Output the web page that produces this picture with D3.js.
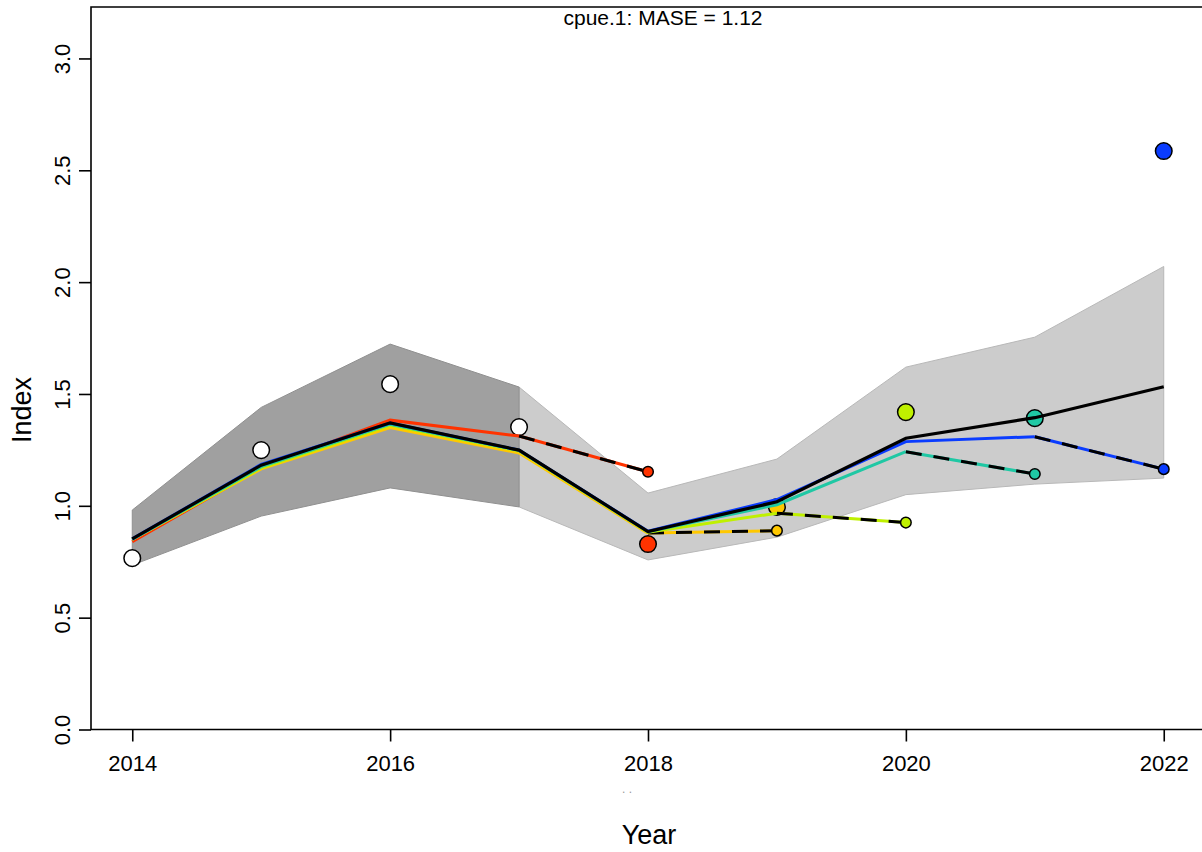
<!DOCTYPE html>
<html>
<head>
<meta charset="utf-8">
<script src="https://cdn.jsdelivr.net/npm/d3@7/dist/d3.min.js"></script>
<style>
  html, body { margin: 0; padding: 0; background: #fff; }
  svg { display: block; }
  text { font-family: "Liberation Sans", Arial, sans-serif; fill: #000; }
</style>
</head>
<body>
<svg id="chart" width="1202" height="852"></svg>
<script>
// ---------------- data ----------------
const years = [2014, 2015, 2016, 2017, 2018, 2019, 2020, 2021, 2022];
const xTicks = [2014, 2016, 2018, 2020, 2022];
const yTicks = [0, 0.5, 1.0, 1.5, 2.0, 2.5, 3.0];

// observed index
const obs = [0.766, 1.249, 1.544, 1.352, 0.829, 0.995, 1.419, 1.392, 2.586];
const obsColors = ["#ffffff", "#ffffff", "#ffffff", "#ffffff", "#ff3300", "#ffc800", "#bff000", "#1fc8a4", "#0a3cff"];

// reference run fit
const refFit = [0.852, 1.182, 1.371, 1.249, 0.885, 1.018, 1.302, 1.394, 1.532];

// confidence band of reference run
const ciYearsDark = [2014, 2015, 2016, 2017];
const ciUpperDark = [0.981, 1.440, 1.723, 1.531];
const ciLowerDark = [0.735, 0.954, 1.080, 0.995];
const ciYearsLight = [2017, 2018, 2019, 2020, 2021, 2022];
const ciUpperLight = [1.531, 1.057, 1.209, 1.620, 1.754, 2.070];
const ciLowerLight = [0.995, 0.758, 0.860, 1.050, 1.097, 1.124];

// retrospective peels: fitted values 2014..endYear, prediction one year ahead
const peelNames = ["2017", "2018", "2019", "2020", "2021"];
const peelColors = ["#ff3300", "#ffc800", "#bff000", "#1fc8a4", "#0a3cff"];
const peelEnd = [2017, 2018, 2019, 2020, 2021];
const peelFit = [
  [0.840, 1.170, 1.383, 1.312],
  [0.850, 1.165, 1.350, 1.236, 0.878],
  [0.850, 1.170, 1.360, 1.245, 0.882, 0.967],
  [0.850, 1.175, 1.365, 1.248, 0.884, 1.005, 1.242],
  [0.852, 1.185, 1.370, 1.249, 0.886, 1.028, 1.287, 1.309]
];
const peelPred = [1.152, 0.889, 0.925, 1.142, 1.164];

const titleText = "cpue.1: MASE = 1.12";

// ---------------- layout ----------------
const svg = d3.select("#chart");
const x = d3.scaleLinear().domain([2013.68, 2022.32]).range([91, 1205]);
const y = d3.scaleLinear().domain([0, 3.23]).range([729.5, 7]);

const line = d3.line().x(d => x(d[0])).y(d => y(d[1]));
const area = d3.area().x(d => x(d[0])).y0(d => y(d[2])).y1(d => y(d[1]));

// bands
const light = ciYearsLight.map((yr, i) => [yr, ciUpperLight[i], ciLowerLight[i]]);
const dark = ciYearsDark.map((yr, i) => [yr, ciUpperDark[i], ciLowerDark[i]]);
svg.append("path").attr("d", area(light) + "Z").attr("fill", "#cccccc").attr("stroke", "#b8b8b8").attr("stroke-width", 1);
svg.append("path").attr("d", area(dark) + "Z").attr("fill", "#a0a0a0").attr("stroke", "#909090").attr("stroke-width", 1);

// white observations (reference period)
const circ = (g, cx, cy, r, fill) => g.append("circle").attr("cx", cx).attr("cy", cy).attr("r", r)
  .attr("fill", fill).attr("stroke", "#000").attr("stroke-width", 1.5);

years.forEach((yr, i) => {
  if (obsColors[i] === "#ffffff") circ(svg, x(yr), y(obs[i]), 8.3, obsColors[i]);
});

// peels
peelFit.forEach((vals, p) => {
  const g = svg.append("g").attr("class", "peel-" + peelNames[p]);
  const pts = vals.map((v, i) => [years[i], v]);
  const last = pts[pts.length - 1];
  const pred = [peelEnd[p] + 1, peelPred[p]];
  g.append("path").attr("d", line(pts)).attr("fill", "none").attr("stroke", peelColors[p]).attr("stroke-width", 3);
  g.append("path").attr("d", line([last, pred])).attr("fill", "none").attr("stroke", peelColors[p]).attr("stroke-width", 3);
  g.append("path").attr("d", line([last, pred])).attr("fill", "none").attr("stroke", "#000").attr("stroke-width", 3)
    .attr("stroke-dasharray", "16,12");
  circ(g, x(pred[0]), y(pred[1]), 5.3, peelColors[p]);
  const oi = years.indexOf(pred[0]);
  circ(g, x(years[oi]), y(obs[oi]), 8.3, obsColors[oi]);
});

// reference fit on top
svg.append("path").attr("d", line(years.map((yr, i) => [yr, refFit[i]])))
  .attr("fill", "none").attr("stroke", "#000").attr("stroke-width", 3.2);

// frame (top, left, bottom; right edge is outside the window)
svg.append("path").attr("d", `M${x(2022.32)},${y(3.23)}H91V${y(0)}H${x(2022.32)}`)
  .attr("fill", "none").attr("stroke", "#000").attr("stroke-width", 1.6);

// x axis
const xAxis = svg.append("g").attr("transform", `translate(0,${y(0)})`)
  .call(d3.axisBottom(x).tickValues(xTicks).tickSize(12).tickSizeOuter(0).tickFormat(d3.format("d")));
xAxis.select(".domain").remove();
xAxis.selectAll(".tick line").attr("stroke", "#000").attr("stroke-width", 1.6);
xAxis.selectAll(".tick text").attr("y", 0).attr("dy", 0)
  .attr("transform", "translate(0,41)")
  .style("font-family", "'Liberation Sans', Arial, sans-serif").style("font-size", "22px").attr("fill", "#000");

// y axis
const yAxis = svg.append("g").attr("transform", "translate(91,0)")
  .call(d3.axisLeft(y).tickValues(yTicks).tickSize(12).tickSizeOuter(0).tickFormat(d3.format(".1f")));
yAxis.select(".domain").remove();
yAxis.selectAll(".tick line").attr("stroke", "#000").attr("stroke-width", 1.6);
yAxis.selectAll(".tick text").attr("x", 0).attr("dy", 0)
  .attr("transform", "translate(-21,0) rotate(-90)")
  .attr("text-anchor", "middle")
  .style("font-family", "'Liberation Sans', Arial, sans-serif").style("font-size", "22px").attr("fill", "#000");

// titles
svg.append("text").attr("x", 663).attr("y", 25).attr("text-anchor", "middle")
  .style("font-size", "21px").text(titleText);
svg.append("text").attr("x", 649).attr("y", 844).attr("text-anchor", "middle")
  .style("font-size", "27px").text("Year");
svg.append("text").attr("transform", "translate(31,410) rotate(-90)").attr("text-anchor", "middle")
  .style("font-size", "27px").text("Index");
svg.append("text").attr("x", 627).attr("y", 793).attr("text-anchor", "middle")
  .style("font-size", "12px").style("fill", "#999999").text(".  .");
</script>
</body>
</html>
